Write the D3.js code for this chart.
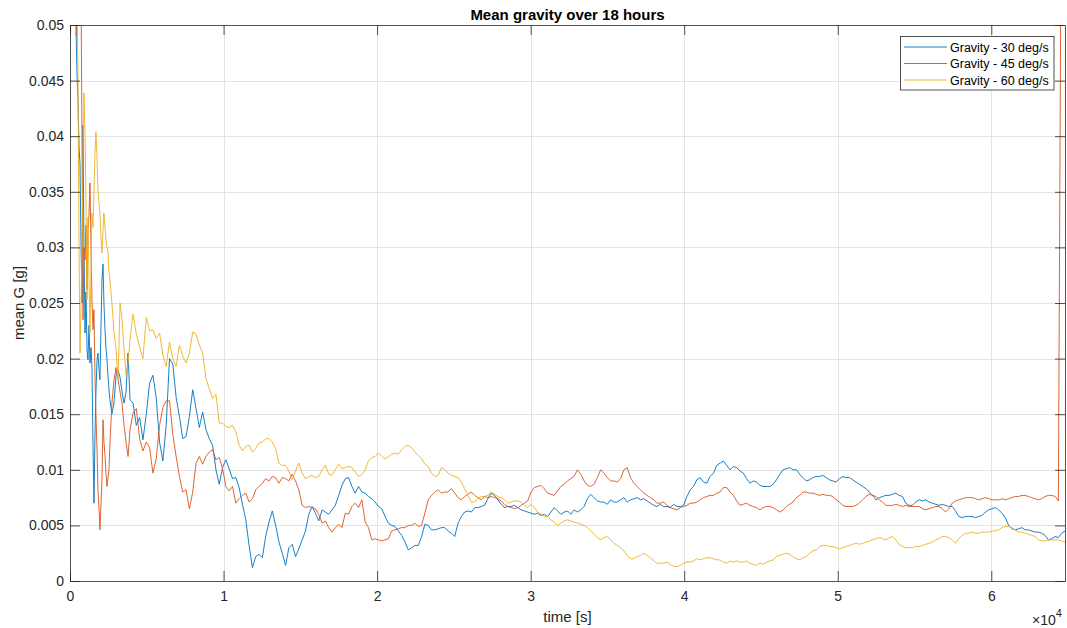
<!DOCTYPE html>
<html>
<head>
<meta charset="utf-8">
<script src="https://cdn.jsdelivr.net/npm/d3@7"></script>
<style>
  html, body { margin: 0; padding: 0; background: #fff; }
  svg { display: block; font-family: "Liberation Sans", Arial, Helvetica, sans-serif; }
</style>
</head>
<body>
<svg id="chart" width="1067" height="628"></svg>
<script>
// ---------------- data ----------------
// Sample times [s]: dense log during the first hour, then one sample every 216 s.
const earlyTime = [
  390, 460, 520, 590, 650, 720, 780, 850, 910, 980,
  1040, 1110, 1170, 1240, 1300, 1370, 1430, 1500, 1560, 1630,
  1690, 1760, 1820, 1890, 1950, 2020, 2080, 2150, 2210, 2280,
  2340, 2410, 2470, 2540, 2600,
  2730, 2860, 3000, 3130, 3260, 3390, 3520, 3650, 3780, 3910
];
const logInterval = 216;     // s between regular samples
const firstLoggedIndex = 19; // first regular sample: 19 * 216 s
const lastLoggedIndex = 300; // last regular sample: 300 * 216 s = 18 h

// Mean G [g], 30 deg/s
const gravity30 = [
  0.0500,0.0453,0.0433,0.0390,0.0376,0.0300,0.0250,0.0410,0.0300,0.0223,
  0.0260,0.0208,0.0199,0.0230,0.0196,0.0210,0.0192,0.0120,0.0070,0.0133,
  0.0170,0.0199,0.0205,0.0190,0.0181,0.0230,0.0270,0.0285,0.0250,0.0226,
  0.0210,0.0199,0.0185,0.0172,0.0163,
  0.0150,0.0160,0.0185,0.0190,0.0183,0.0170,0.0160,0.0170,0.0205,0.0163,
  // regular samples 19..300
  0.0160,0.0140,0.0147,0.0127,0.0150,0.0178,0.0185,0.0165,0.0125,0.0108,
  0.0140,0.0200,0.0195,0.0165,0.0148,0.0128,0.0130,0.0148,0.0172,0.0155,
  0.0138,0.0152,0.0136,0.0128,0.0122,0.0100,0.0087,0.0102,0.0109,0.0101,
  0.0092,0.0093,0.0084,0.0069,0.0055,0.0032,0.0012,0.0022,0.0024,0.0021,
  0.0040,0.0053,0.0063,0.0050,0.0035,0.0025,0.0014,0.0030,0.0033,0.0022,
  0.0029,0.0037,0.0045,0.0060,0.0067,0.0061,0.0054,0.0064,0.0062,0.0060,
  0.0064,0.0068,0.0077,0.0086,0.0092,0.0093,0.0085,0.0079,0.0085,0.0080,
  0.0079,0.0076,0.0074,0.0071,0.0067,0.0065,0.0058,0.0052,0.0050,0.0049,
  0.0045,0.0041,0.0035,0.0028,0.0030,0.0032,0.0032,0.0040,0.0051,0.0050,
  0.0046,0.0046,0.0047,0.0048,0.0048,0.0045,0.0043,0.0040,0.0052,0.0058,
  0.0062,0.0063,0.0062,0.0066,0.0066,0.0067,0.0068,0.0074,0.0079,0.0077,
  0.0073,0.0069,0.0066,0.0067,0.0067,0.0068,0.0066,0.0064,0.0063,0.0062,
  0.0061,0.0060,0.0061,0.0059,0.0060,0.0058,0.0062,0.0066,0.0063,0.0060,
  0.0062,0.0063,0.0060,0.0064,0.0062,0.0064,0.0067,0.0074,0.0078,0.0075,
  0.0072,0.0071,0.0071,0.0069,0.0073,0.0071,0.0071,0.0073,0.0075,0.0071,
  0.0073,0.0074,0.0075,0.0073,0.0074,0.0072,0.0070,0.0068,0.0067,0.0069,
  0.0067,0.0067,0.0066,0.0069,0.0067,0.0067,0.0068,0.0076,0.0082,0.0085,
  0.0091,0.0093,0.0089,0.0088,0.0094,0.0097,0.0104,0.0106,0.0108,0.0104,
  0.0100,0.0103,0.0102,0.0099,0.0097,0.0092,0.0088,0.0090,0.0089,0.0086,
  0.0085,0.0085,0.0085,0.0087,0.0091,0.0096,0.0100,0.0101,0.0102,0.0100,
  0.0100,0.0096,0.0093,0.0090,0.0091,0.0093,0.0094,0.0094,0.0095,0.0093,
  0.0091,0.0090,0.0089,0.0092,0.0094,0.0093,0.0093,0.0091,0.0089,0.0087,
  0.0085,0.0083,0.0080,0.0077,0.0073,0.0075,0.0076,0.0077,0.0077,0.0078,
  0.0079,0.0077,0.0076,0.0070,0.0068,0.0068,0.0071,0.0073,0.0072,0.0073,
  0.0071,0.0070,0.0069,0.0068,0.0069,0.0068,0.0067,0.0067,0.0063,0.0058,
  0.0057,0.0058,0.0058,0.0058,0.0057,0.0058,0.0059,0.0062,0.0064,0.0065,
  0.0066,0.0064,0.0061,0.0057,0.0050,0.0047,0.0046,0.0047,0.0048,0.0046,
  0.0046,0.0045,0.0044,0.0044,0.0043,0.0041,0.0037,0.0038,0.0040,0.0039,
  0.0043,0.0045
];

// Mean G [g], 45 deg/s (log stops one sample early, on a large final reading)
const gravity45 = [
  0.0490,0.0505,0.0513,0.0530,0.0540,0.0530,0.0400,0.0235,0.0300,0.0289,
  0.0320,0.0262,0.0316,0.0330,0.0358,0.0298,0.0253,0.0226,0.0244,0.0181,
  0.0150,0.0118,0.0082,0.0065,0.0046,0.0070,0.0091,0.0145,0.0125,0.0113,
  0.0098,0.0085,0.0092,0.0100,0.0124,
  0.0160,0.0180,0.0192,0.0181,0.0170,0.0160,0.0140,0.0125,0.0112,0.0136,
  // regular samples 19..299
  0.0151,0.0155,0.0128,0.0117,0.0125,0.0120,0.0097,0.0110,0.0140,0.0156,
  0.0162,0.0162,0.0132,0.0112,0.0094,0.0080,0.0082,0.0065,0.0080,0.0106,
  0.0112,0.0105,0.0112,0.0116,0.0118,0.0109,0.0111,0.0101,0.0085,0.0081,
  0.0085,0.0070,0.0074,0.0077,0.0079,0.0071,0.0074,0.0082,0.0085,0.0088,
  0.0092,0.0090,0.0094,0.0093,0.0088,0.0093,0.0092,0.0090,0.0096,0.0090,
  0.0082,0.0068,0.0066,0.0067,0.0066,0.0065,0.0060,0.0052,0.0054,0.0048,
  0.0044,0.0048,0.0051,0.0048,0.0061,0.0060,0.0067,0.0070,0.0066,0.0073,
  0.0053,0.0048,0.0037,0.0038,0.0037,0.0036,0.0037,0.0038,0.0045,0.0046,
  0.0047,0.0048,0.0048,0.0050,0.0050,0.0052,0.0049,0.0050,0.0061,0.0073,
  0.0077,0.0080,0.0082,0.0079,0.0080,0.0080,0.0083,0.0079,0.0075,0.0073,
  0.0076,0.0078,0.0080,0.0077,0.0075,0.0073,0.0076,0.0075,0.0076,0.0075,
  0.0074,0.0072,0.0069,0.0067,0.0066,0.0065,0.0066,0.0068,0.0070,0.0072,
  0.0080,0.0084,0.0085,0.0086,0.0083,0.0079,0.0078,0.0077,0.0081,0.0085,
  0.0087,0.0090,0.0092,0.0094,0.0100,0.0096,0.0090,0.0086,0.0085,0.0087,
  0.0093,0.0100,0.0097,0.0093,0.0090,0.0090,0.0089,0.0092,0.0100,0.0102,
  0.0093,0.0088,0.0085,0.0082,0.0079,0.0077,0.0075,0.0073,0.0070,0.0070,
  0.0071,0.0068,0.0066,0.0065,0.0064,0.0066,0.0067,0.0068,0.0070,0.0070,
  0.0071,0.0073,0.0075,0.0076,0.0077,0.0077,0.0079,0.0080,0.0084,0.0084,
  0.0080,0.0077,0.0072,0.0068,0.0069,0.0070,0.0068,0.0067,0.0066,0.0064,
  0.0066,0.0067,0.0067,0.0066,0.0064,0.0062,0.0064,0.0067,0.0069,0.0071,
  0.0075,0.0077,0.0080,0.0080,0.0079,0.0079,0.0078,0.0077,0.0078,0.0077,
  0.0077,0.0076,0.0073,0.0071,0.0068,0.0067,0.0067,0.0067,0.0068,0.0070,
  0.0073,0.0076,0.0078,0.0077,0.0076,0.0073,0.0071,0.0068,0.0068,0.0068,
  0.0069,0.0068,0.0067,0.0068,0.0067,0.0067,0.0067,0.0067,0.0065,0.0064,
  0.0065,0.0066,0.0067,0.0067,0.0065,0.0062,0.0065,0.0070,0.0072,0.0073,
  0.0074,0.0075,0.0075,0.0075,0.0074,0.0073,0.0074,0.0075,0.0074,0.0073,
  0.0073,0.0073,0.0074,0.0073,0.0074,0.0075,0.0076,0.0076,0.0077,0.0077,
  0.0076,0.0075,0.0074,0.0073,0.0074,0.0076,0.0077,0.0077,0.0076,0.0072,
  0.0700
];

// Mean G [g], 60 deg/s
const gravity60 = [
  0.0520,0.0540,0.0450,0.0298,0.0205,0.0250,0.0298,0.0380,0.0439,0.0400,
  0.0343,0.0253,0.0327,0.0270,0.0223,0.0280,0.0331,0.0318,0.0350,0.0385,
  0.0404,0.0380,0.0352,0.0340,0.0331,0.0310,0.0295,0.0315,0.0331,0.0318,
  0.0307,0.0300,0.0296,0.0278,0.0270,
  0.0250,0.0225,0.0208,0.0181,0.0250,0.0235,0.0208,0.0185,0.0196,0.0217,
  // regular samples 19..300
  0.0240,0.0222,0.0210,0.0200,0.0237,0.0225,0.0226,0.0218,0.0223,0.0203,
  0.0193,0.0215,0.0200,0.0193,0.0212,0.0202,0.0196,0.0205,0.0224,0.0222,
  0.0212,0.0205,0.0182,0.0173,0.0164,0.0168,0.0142,0.0142,0.0139,0.0138,
  0.0140,0.0134,0.0122,0.0117,0.0121,0.0122,0.0116,0.0119,0.0124,0.0125,
  0.0128,0.0128,0.0125,0.0119,0.0106,0.0104,0.0104,0.0099,0.0091,0.0099,
  0.0106,0.0097,0.0092,0.0094,0.0095,0.0093,0.0094,0.0100,0.0104,0.0096,
  0.0095,0.0100,0.0105,0.0101,0.0102,0.0103,0.0102,0.0098,0.0094,0.0096,
  0.0100,0.0108,0.0111,0.0112,0.0115,0.0112,0.0110,0.0112,0.0114,0.0115,
  0.0114,0.0118,0.0121,0.0122,0.0120,0.0116,0.0113,0.0110,0.0105,0.0103,
  0.0097,0.0094,0.0095,0.0102,0.0100,0.0097,0.0095,0.0094,0.0093,0.0089,
  0.0083,0.0077,0.0071,0.0071,0.0074,0.0076,0.0076,0.0077,0.0080,0.0078,
  0.0076,0.0075,0.0073,0.0070,0.0071,0.0072,0.0072,0.0071,0.0068,0.0066,
  0.0069,0.0066,0.0062,0.0060,0.0058,0.0058,0.0055,0.0053,0.0050,0.0052,
  0.0054,0.0055,0.0054,0.0053,0.0052,0.0051,0.0050,0.0048,0.0045,0.0042,
  0.0039,0.0037,0.0039,0.0040,0.0037,0.0034,0.0032,0.0030,0.0027,0.0023,
  0.0020,0.0020,0.0022,0.0023,0.0025,0.0023,0.0021,0.0018,0.0016,0.0016,
  0.0016,0.0017,0.0015,0.0013,0.0013,0.0014,0.0016,0.0017,0.0017,0.0018,
  0.0020,0.0019,0.0020,0.0021,0.0021,0.0020,0.0019,0.0019,0.0017,0.0016,
  0.0018,0.0017,0.0018,0.0017,0.0017,0.0018,0.0016,0.0015,0.0014,0.0016,
  0.0015,0.0017,0.0018,0.0019,0.0022,0.0023,0.0024,0.0025,0.0024,0.0022,
  0.0020,0.0019,0.0021,0.0022,0.0025,0.0027,0.0028,0.0031,0.0032,0.0032,
  0.0031,0.0031,0.0030,0.0029,0.0030,0.0031,0.0032,0.0033,0.0034,0.0033,
  0.0034,0.0035,0.0036,0.0037,0.0038,0.0039,0.0038,0.0037,0.0039,0.0040,
  0.0037,0.0033,0.0031,0.0030,0.0030,0.0030,0.0031,0.0031,0.0032,0.0033,
  0.0034,0.0035,0.0037,0.0038,0.0040,0.0040,0.0039,0.0037,0.0034,0.0038,
  0.0041,0.0043,0.0043,0.0044,0.0043,0.0043,0.0044,0.0044,0.0044,0.0045,
  0.0045,0.0046,0.0048,0.0049,0.0049,0.0048,0.0046,0.0044,0.0044,0.0043,
  0.0042,0.0041,0.0040,0.0037,0.0036,0.0036,0.0037,0.0037,0.0037,0.0037,
  0.0036,0.0035
];

const seriesNames = ["Gravity - 30 deg/s", "Gravity - 45 deg/s", "Gravity - 60 deg/s"];
const seriesColors = ["#0072BD", "#D95319", "#EDB120"];

const xTickValues = [0, 10000, 20000, 30000, 40000, 50000, 60000];
const xTickLabels = ["0", "1", "2", "3", "4", "5", "6"];
const yTickValues = [0, 0.005, 0.01, 0.015, 0.02, 0.025, 0.03, 0.035, 0.04, 0.045, 0.05];
const yTickLabels = ["0", "0.005", "0.01", "0.015", "0.02", "0.025", "0.03", "0.035", "0.04", "0.045", "0.05"];

// ---------------- layout ----------------
const plot = { left: 70, right: 1065, top: 25, bottom: 581 };
const axisColor = "#262626";
const gridColor = "#e3e3e3";
const tickLen = 10;

const svg = d3.select("#chart");

const x = d3.scaleLinear().domain([0, 64800]).range([plot.left, plot.right]);
const y = d3.scaleLinear().domain([0, 0.05]).range([plot.bottom, plot.top]);

// time axis shared by all logs
const regularTime = d3.range(firstLoggedIndex, lastLoggedIndex + 1).map(i => i * logInterval);
const sampleTime = earlyTime.concat(regularTime);

const series = [gravity30, gravity45, gravity60].map((vals, k) => ({
  name: seriesNames[k],
  color: seriesColors[k],
  points: vals.map((v, i) => [sampleTime[i], v])
}));

// ---------------- grid ----------------
const grid = svg.append("g").attr("class", "grid");
grid.selectAll("line.gx")
  .data(xTickValues.slice(1))
  .join("line")
  .attr("x1", d => Math.round(x(d)) + 0.5).attr("x2", d => Math.round(x(d)) + 0.5)
  .attr("y1", plot.top).attr("y2", plot.bottom)
  .attr("stroke", gridColor).attr("stroke-width", 1);
grid.selectAll("line.gy")
  .data(yTickValues.slice(1, -1))
  .join("line")
  .attr("y1", d => Math.round(y(d)) + 0.5).attr("y2", d => Math.round(y(d)) + 0.5)
  .attr("x1", plot.left).attr("x2", plot.right)
  .attr("stroke", gridColor).attr("stroke-width", 1);

// ---------------- lines ----------------
svg.append("defs").append("clipPath").attr("id", "plotClip")
  .append("rect")
  .attr("x", plot.left).attr("y", plot.top)
  .attr("width", plot.right - plot.left).attr("height", plot.bottom - plot.top);

const line = d3.line().x(d => x(d[0])).y(d => y(d[1]));

svg.append("g").attr("clip-path", "url(#plotClip)")
  .selectAll("path")
  .data(series)
  .join("path")
  .attr("d", d => line(d.points))
  .attr("fill", "none")
  .attr("stroke", d => d.color)
  .attr("stroke-width", 0.9)
  .attr("stroke-linejoin", "round");

// ---------------- axes ----------------
function styleAxis(g) {
  g.selectAll("path.domain").attr("stroke", axisColor).attr("stroke-width", 0.8);
  g.selectAll(".tick line").attr("stroke", axisColor).attr("stroke-width", 0.8);
  g.selectAll(".tick text").attr("fill", axisColor).attr("font-size", 14)
    .attr("font-family", "\"Liberation Sans\", Arial, Helvetica, sans-serif");
}

svg.append("g")
  .attr("transform", `translate(0,${plot.bottom})`)
  .call(d3.axisBottom(x).tickValues(xTickValues).tickFormat((d, i) => xTickLabels[i])
    .tickSizeInner(-tickLen).tickSizeOuter(0).tickPadding(10))
  .call(styleAxis);

svg.append("g")
  .attr("transform", `translate(0,${plot.top})`)
  .call(d3.axisTop(x).tickValues(xTickValues).tickFormat("")
    .tickSizeInner(-tickLen).tickSizeOuter(0))
  .call(styleAxis);

svg.append("g")
  .attr("transform", `translate(${plot.left},0)`)
  .call(d3.axisLeft(y).tickValues(yTickValues).tickFormat((d, i) => yTickLabels[i])
    .tickSizeInner(-tickLen).tickSizeOuter(0).tickPadding(6))
  .call(styleAxis);

svg.append("g")
  .attr("transform", `translate(${plot.right},0)`)
  .call(d3.axisRight(y).tickValues(yTickValues).tickFormat("")
    .tickSizeInner(-tickLen).tickSizeOuter(0))
  .call(styleAxis);

// ---------------- labels ----------------
svg.append("text")
  .attr("x", (plot.left + plot.right) / 2).attr("y", 19.5)
  .attr("text-anchor", "middle")
  .attr("font-size", 15).attr("font-weight", "bold").attr("fill", "#000")
  .text("Mean gravity over 18 hours");

svg.append("text")
  .attr("x", (plot.left + plot.right) / 2).attr("y", 622)
  .attr("text-anchor", "middle")
  .attr("font-size", 15).attr("fill", axisColor)
  .text("time [s]");

svg.append("text")
  .attr("transform", `translate(24,${(plot.top + plot.bottom) / 2}) rotate(-90)`)
  .attr("text-anchor", "middle")
  .attr("font-size", 15).attr("fill", axisColor)
  .text("mean G [g]");

const expLabel = svg.append("text")
  .attr("x", 1032).attr("y", 625)
  .attr("font-size", 14).attr("fill", axisColor);
expLabel.append("tspan").text("\u00d710");
expLabel.append("tspan").attr("dy", -8).attr("font-size", 11).text("4");

// ---------------- legend ----------------
const legend = svg.append("g").attr("transform", "translate(900.5,36.5)");
legend.append("rect")
  .attr("width", 153.5).attr("height", 53.5)
  .attr("fill", "#fff").attr("stroke", axisColor).attr("stroke-width", 0.8);
const item = legend.selectAll("g.item")
  .data(series)
  .join("g")
  .attr("transform", (d, i) => `translate(0,${10.5 + i * 16.5})`);
item.append("line")
  .attr("x1", 3.5).attr("x2", 46.5).attr("y1", 0).attr("y2", 0)
  .attr("stroke", d => d.color).attr("stroke-width", 0.9);
item.append("text")
  .attr("x", 49.5).attr("y", 4.5)
  .attr("font-size", 12.5).attr("fill", "#000")
  .text(d => d.name);
</script>
</body>
</html>
